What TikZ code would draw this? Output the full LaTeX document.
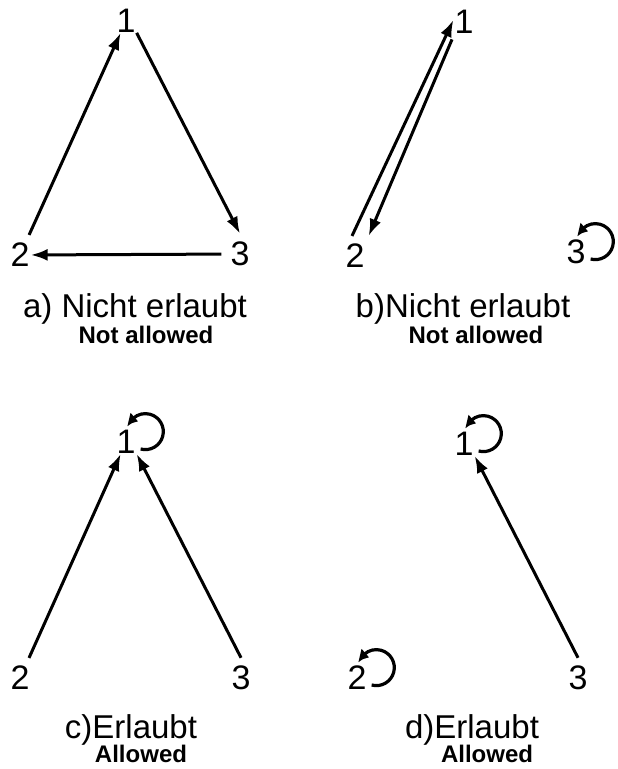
\documentclass[tikz,border=0pt]{standalone}
\usepackage{fontspec}
\setmainfont{Liberation Sans}
\usepackage{tikz}
\usetikzlibrary{arrows.meta, bending}

\tikzset{
  topvtx/.style={font=\fontsize{34}{34}\selectfont, inner xsep=1pt, inner ysep=0pt},
  lowvtx/.style={font=\fontsize{34}{34}\selectfont, inner xsep=1pt, inner ysep=8pt},
  arr/.style={-{Latex[length=17pt,width=12pt]}, line width=3pt},
  loopy/.style={-{Latex[length=12pt,width=12pt,bend]}, line width=3.2pt},
  capt/.style={font=\fontsize{33}{33}\selectfont, anchor=base, inner sep=0pt},
  subcapt/.style={font=\fontsize{24}{24}\selectfont\bfseries, anchor=base, inner sep=0pt}
}

\begin{document}
\begin{tikzpicture}[x=1pt, y=1pt]
  \useasboundingbox (0,0) rectangle (618,-769);

  % a) cycle
  \node[topvtx] (a1) at (126,-21) {1};
  \node[lowvtx] (a2) at (20,-255) {2};
  \node[lowvtx] (a3) at (240,-254) {3};
  \draw[arr] (a2) -- (a1);
  \draw[arr] (a1.south east) -- (a3.north);
  \draw[arr, shorten <=8pt] (a3) -- (a2);
  \node[capt] (capA) at (135,-317) {a) Nicht erlaubt};
  \node[subcapt] (subA) at (146,-343) {Not allowed};

  % b) two-way edge and a loop
  \node[topvtx] (b1) at (464,-22) {1};
  \node[lowvtx] (b2) at (355,-256) {2};
  \node[lowvtx] (b3) at (576,-252) {3};
  \draw[arr] ([xshift=-3pt]b2.north) -- ([yshift=2pt]b1.west);
  \draw[arr, shorten <=6pt] ([xshift=1pt]b1.south west) -- ([xshift=3pt]b2.north east);
  \draw[loopy] ([shift={(4pt,-7pt)}]b3.east) arc[start angle=-105, end angle=165, radius=18pt];
  \node[capt] (capB) at (463,-317) {b)Nicht erlaubt};
  \node[subcapt] (subB) at (476,-343) {Not allowed};

  % c) both into 1
  \node[topvtx] (c1) at (126,-442) {1};
  \node[lowvtx] (c2) at (20,-678) {2};
  \node[lowvtx] (c3) at (241,-678) {3};
  \draw[arr] (c2) -- (c1);
  \draw[arr] (c3.north) -- (c1.south east);
  \draw[loopy] ([shift={(4pt,-7pt)}]c1.east) arc[start angle=-105, end angle=165, radius=18pt];
  \node[capt] (capC) at (131,-738) {c)Erlaubt};
  \node[subcapt] (subC) at (141,-762) {Allowed};

  % d) one into 1
  \node[topvtx] (d1) at (464,-444) {1};
  \node[lowvtx] (d2) at (357,-678) {2};
  \node[lowvtx] (d3) at (578,-678) {3};
  \draw[arr] (d3.north) -- (d1.south east);
  \draw[loopy] ([shift={(4pt,-7pt)}]d1.east) arc[start angle=-105, end angle=165, radius=18pt];
  \draw[loopy] ([shift={(4pt,-7pt)}]d2.east) arc[start angle=-105, end angle=165, radius=18pt];
  \node[capt] (capD) at (472,-738) {d)Erlaubt};
  \node[subcapt] (subD) at (487,-762) {Allowed};
\end{tikzpicture}
\end{document}
